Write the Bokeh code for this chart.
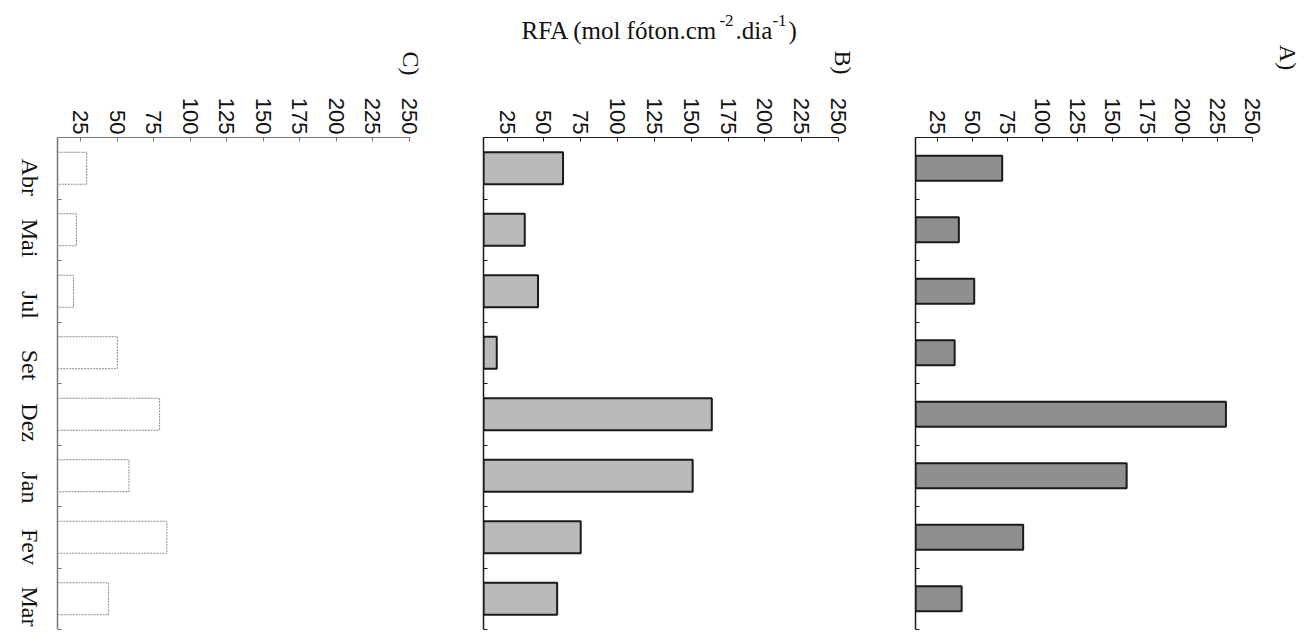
import math
from bokeh.plotting import figure
from bokeh.models import Range1d, FixedTicker, Label
from bokeh.layouts import row, column
from bokeh.embed import file_html
from bokeh.resources import INLINE

# ---- data ----
months = ["Abr", "Mai", "Jul", "Set", "Dez", "Jan", "Fev", "Mar"]
rfa_a = [71, 40, 51, 37, 231, 160, 86, 42]
rfa_b = [63, 37, 46, 18, 164, 151, 75, 59]
rfa_c = [29, 22, 20, 50, 79, 58, 84, 44]
value_ticks = [25, 50, 75, 100, 125, 150, 175, 200, 225, 250]
# title pieces: (text, is_superscript)
title_parts = [("RFA (mol fóton.cm", False), ("-2", True), (".dia", False),
               ("-1", True), (")", False)]

X0 = 9
FRAME_H = 492
HEADER_H = 85
N = len(months)
LABEL_SHIFT = 0.45  # rotated labels are end-anchored by Bokeh; shift to centre them

# Times / Liberation Serif advance widths (em) for laying out the title pieces
TW = {"R": .667, "F": .556, "A": .722, " ": .25, "(": .333, "m": .778, "o": .5,
      "l": .278, "f": .333, "ó": .5, "t": .278, "n": .5, ".": .25, "c": .444,
      "-": .333, "2": .5, "d": .5, "i": .278, "a": .444, ")": .333, "1": .5}


def make_panel(values, x_end, frame_w, bl, br, fill, line, dash, lw,
               bar_h, axis_color, show_labels):
    p = figure(x_range=Range1d(X0, x_end), y_range=Range1d(N - 0.5, -0.5),
               x_axis_location="above", frame_width=frame_w, frame_height=FRAME_H,
               min_border_left=bl, min_border_right=br, min_border_top=52,
               min_border_bottom=4, output_backend="svg", toolbar_location=None,
               tools="", background_fill_color="white", border_fill_color="white")
    p.outline_line_color = None
    p.grid.visible = False
    ys = list(range(N))
    p.hbar(y=ys, left=X0, right=values, height=bar_h, fill_color=fill,
           line_color=line, line_width=lw, line_dash=dash)

    xa = p.xaxis[0]
    xa.ticker = FixedTicker(ticks=value_ticks)
    xa.major_label_orientation = -math.pi / 2
    xa.major_label_text_font = "Liberation Sans"
    xa.major_label_text_font_size = "22px"
    xa.major_label_text_color = "#111111"
    xa.major_label_standoff = 3
    xa.major_tick_in = 4
    xa.major_tick_out = 0
    xa.minor_tick_in = 0
    xa.minor_tick_out = 0
    xa.axis_line_color = axis_color
    xa.major_tick_line_color = axis_color

    ya = p.yaxis[0]
    label_pos = [i + LABEL_SHIFT for i in ys]
    ya.ticker = FixedTicker(ticks=label_pos, minor_ticks=[i + 0.5 for i in range(-1, N)])
    ya.major_tick_in = 0
    ya.major_tick_out = 0
    ya.minor_tick_in = 4
    ya.minor_tick_out = 0
    ya.axis_line_color = axis_color
    ya.axis_line_width = 1.5
    ya.minor_tick_line_color = axis_color
    if show_labels:
        ya.major_label_overrides = {t: m for t, m in zip(label_pos, months)}
        ya.major_label_orientation = -math.pi / 2
        ya.major_label_text_font = "Liberation Serif"
        ya.major_label_text_font_size = "24px"
        ya.major_label_text_color = "#111111"
        ya.major_label_standoff = 28
    else:
        ya.major_label_overrides = {t: "" for t in label_pos}
        ya.major_label_text_font_size = "1px"
    return p


pC = make_panel(rfa_c, 251, 353, 49, 40, "white", "#8a8a8a", "2 1", 1,
                0.52, "#777777", True)
pB = make_panel(rfa_b, 250, 355, 33, 40, "#bababa", "#1a1a1a", "solid", 2,
                0.52, "#1a1a1a", False)
pA = make_panel(rfa_a, 250, 337, 37, 48, "#8f8f8f", "#1a1a1a", "solid", 2,
                0.41, "#1a1a1a", False)

HEADER_W = 1300
header = figure(frame_width=HEADER_W, frame_height=HEADER_H, min_border=0,
                x_range=Range1d(0, HEADER_W), y_range=Range1d(HEADER_H, 0),
                x_axis_type=None, y_axis_type=None, output_backend="svg",
                toolbar_location=None, tools="", background_fill_color="white",
                border_fill_color="white")
header.outline_line_color = None
header.grid.visible = False

MAIN_PX, SUP_PX = 25, 17
cx = 521
for txt, sup in title_parts:
    size = SUP_PX if sup else MAIN_PX
    header.add_layout(Label(x=cx, y=20 if sup else 30, text=txt, text_align="left",
                            text_baseline="middle", text_font="Liberation Serif",
                            text_font_size=f"{size}px", text_color="#111111"))
    cx += sum(TW[ch] for ch in txt) * size + (2 if sup else 0)

for name, px, py in [("C)", 410, 63), ("B)", 842, 62), ("A)", 1287, 57)]:
    header.add_layout(Label(x=px, y=py, text=name, angle=-math.pi / 2,
                            text_align="center", text_baseline="middle",
                            text_font="Liberation Serif", text_font_size="24px",
                            text_color="#111111"))

layout = column(header, row(pC, pB, pA))
open("out.html", "w").write(file_html(layout, INLINE))
